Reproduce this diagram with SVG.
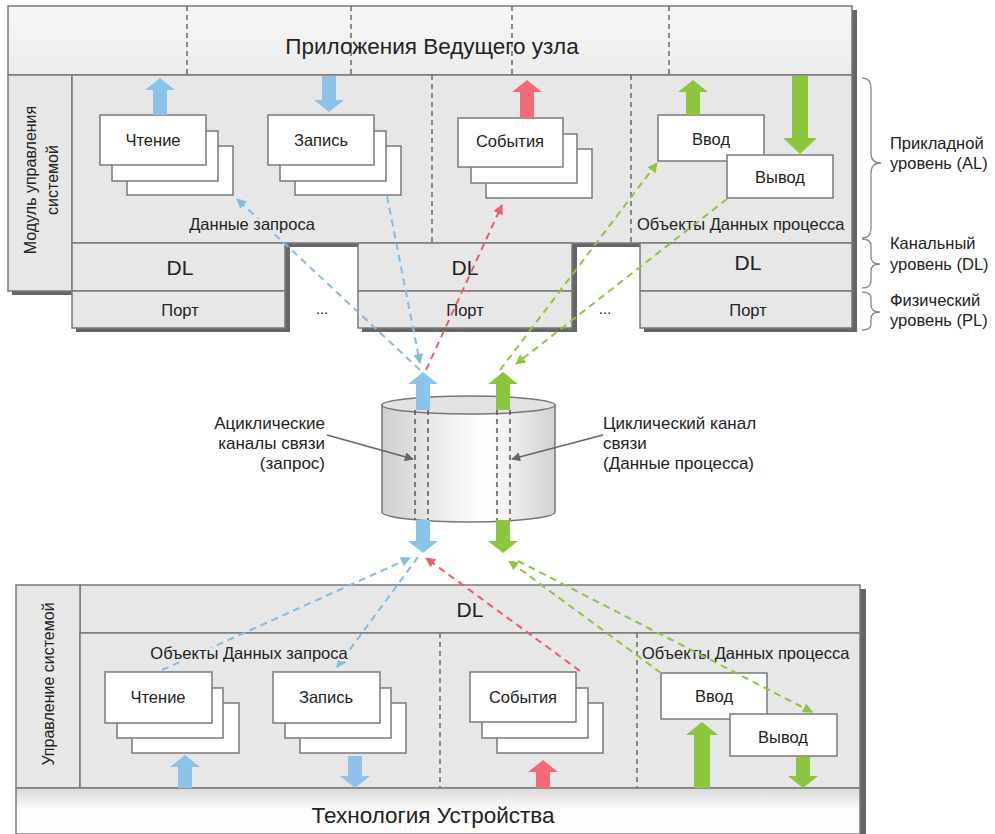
<svg xmlns="http://www.w3.org/2000/svg" width="995" height="834" viewBox="0 0 995 834">
<style>
text{font-family:"Liberation Sans",Arial,sans-serif;fill:#222}
.panel{fill:#e7e7e7;stroke:#7a7a7a;stroke-width:1.5}
.box{fill:#fff;stroke:#7a7a7a;stroke-width:1.5}
.sep{stroke:#6a6a6a;stroke-width:1.5;stroke-dasharray:5 4;fill:none}
.lbl{font-size:16.5px;text-anchor:middle}
.dl{font-size:21px;text-anchor:middle}
.side{font-size:16.5px}
.note{font-size:17px}
.brace{fill:none;stroke:#888;stroke-width:1.3}
.dash{fill:none;stroke-width:2;stroke-dasharray:7 5}
.b{stroke:#7fbde8}.r{stroke:#ee5b6b}.g{stroke:#8dc63f}
.fb{fill:#8cc3ea}.fr{fill:#f26b76}.fg{fill:#8cc63f}
</style>
<defs>
<marker id="mb" viewBox="0 0 10 10" refX="9" refY="5" markerWidth="11" markerHeight="10" markerUnits="userSpaceOnUse" orient="auto"><path d="M0,0L10,5L0,10z" fill="#7fbde8"/></marker>
<marker id="mr" viewBox="0 0 10 10" refX="9" refY="5" markerWidth="11" markerHeight="10" markerUnits="userSpaceOnUse" orient="auto"><path d="M0,0L10,5L0,10z" fill="#ee5b6b"/></marker>
<marker id="mg" viewBox="0 0 10 10" refX="9" refY="5" markerWidth="11" markerHeight="10" markerUnits="userSpaceOnUse" orient="auto"><path d="M0,0L10,5L0,10z" fill="#8dc63f"/></marker>
<marker id="mk" viewBox="0 0 10 10" refX="9" refY="5" markerWidth="10" markerHeight="9" markerUnits="userSpaceOnUse" orient="auto"><path d="M0,0L10,5L0,10z" fill="#666"/></marker>
<linearGradient id="topband" x1="0" y1="0" x2="0" y2="1"><stop offset="0" stop-color="#f6f6f6"/><stop offset="1" stop-color="#ececec"/></linearGradient>
<linearGradient id="botband" x1="0" y1="0" x2="0" y2="1"><stop offset="0" stop-color="#d9d9d9"/><stop offset="0.45" stop-color="#fbfbfb"/><stop offset="1" stop-color="#ffffff"/></linearGradient>
<linearGradient id="cyl" x1="0" y1="0" x2="1" y2="0"><stop offset="0" stop-color="#cfcfcf"/><stop offset="0.35" stop-color="#eeeeee"/><stop offset="0.6" stop-color="#ffffff"/><stop offset="1" stop-color="#d2d2d2"/></linearGradient>
</defs>

<!-- TOP BLOCK -->
<g id="top-shadow"><polygon points="12,10 857,10 857,332 644,332 644,247 577,247 577,332 362,332 362,247 290,247 290,332 76,332 76,295 12,295" fill="#666"/></g>
<g id="host-apps">
<rect x="8" y="6" width="844" height="69" fill="url(#topband)" stroke="#7a7a7a" stroke-width="1.5"/>
<line class="sep" x1="187" y1="6" x2="187" y2="75"/><line class="sep" x1="351" y1="6" x2="351" y2="75"/>
<line class="sep" x1="512" y1="6" x2="512" y2="75"/><line class="sep" x1="669" y1="6" x2="669" y2="75"/>
<text x="432" y="54" font-size="22.5" text-anchor="middle">Приложения Ведущего узла</text>
</g>
<g id="module-sys">
<rect class="panel" x="8" y="75" width="64" height="216"/>
<text transform="translate(36,180) rotate(-90)" font-size="16" text-anchor="middle">Модуль управления</text>
<text transform="translate(58,180) rotate(-90)" font-size="16" text-anchor="middle">системой</text>
</g>
<g id="al-area">
<rect class="panel" x="72" y="75" width="780" height="168"/>
<line class="sep" x1="432" y1="75" x2="432" y2="243"/><line class="sep" x1="631" y1="75" x2="631" y2="243"/>
</g>
<g id="dl-1"><rect class="panel" x="72" y="243" width="213" height="48"/><text class="dl" x="180" y="275">DL</text></g>
<g id="dl-2"><rect class="panel" x="358" y="243" width="214" height="48"/><text class="dl" x="465" y="275">DL</text></g>
<g id="dl-3"><rect class="panel" x="640" y="243" width="212" height="48"/><text class="dl" x="748" y="270">DL</text></g>
<g id="port-1"><rect class="panel" x="72" y="291" width="213" height="37"/><text class="lbl" x="180" y="316">Порт</text></g>
<g id="port-2"><rect class="panel" x="358" y="291" width="214" height="37"/><text class="lbl" x="465" y="316">Порт</text></g>
<g id="port-3"><rect class="panel" x="640" y="291" width="212" height="37"/><text class="lbl" x="748" y="316">Порт</text></g>
<text x="322" y="314" font-size="15" text-anchor="middle" fill="#555">...</text>
<text x="605" y="314" font-size="15" text-anchor="middle" fill="#555">...</text>

<g id="t-read"><rect class="box" x="127" y="146" width="106" height="49"/><rect class="box" x="112" y="131" width="106" height="50"/><rect class="box" x="100" y="115" width="106" height="50"/><text class="lbl" x="153" y="146">Чтение</text></g>
<g id="t-write"><rect class="box" x="295" y="146" width="106" height="49"/><rect class="box" x="280" y="131" width="106" height="50"/><rect class="box" x="268" y="115" width="106" height="50"/><text class="lbl" x="321" y="146">Запись</text></g>
<g id="t-events"><rect class="box" x="486" y="149" width="106" height="49"/><rect class="box" x="471" y="134" width="106" height="49"/><rect class="box" x="458" y="118" width="105" height="49"/><text class="lbl" x="510" y="147">События</text></g>
<g id="t-input"><rect class="box" x="658" y="115" width="106" height="46"/><text class="lbl" x="711" y="145">Ввод</text></g>
<g id="t-output"><rect class="box" x="727" y="155" width="106" height="43"/><text class="lbl" x="780" y="183">Вывод</text></g>
<text id="t-proc-label" class="side" x="637" y="230">Объекты Данных процесса</text>

<g id="layer-labels">
<path class="brace" d="M862,78 Q871,78 871,88 L871,153 Q871,163 881,163 Q871,163 871,173 L871,228 Q871,238 862,238"/>
<path class="brace" d="M862,239 Q871,239 871,246 L871,257 Q871,264 880,264 Q871,264 871,271 L871,281 Q871,288 862,288"/>
<path class="brace" d="M862,292 Q871,292 871,298 L871,305 Q871,312 880,312 Q871,312 871,319 L871,324 Q871,330 862,330"/>
<text class="side" x="890" y="149">Прикладной</text><text class="side" x="890" y="169">уровень (AL)</text>
<text class="side" x="890" y="249">Канальный</text><text class="side" x="890" y="270">уровень (DL)</text>
<text class="side" x="890" y="306">Физический</text><text class="side" x="890" y="326">уровень (PL)</text>
</g>

<!-- CHANNEL -->
<g id="channel">
<path d="M382,405 L382,512 A86.5,10 0 0 0 555,512 L555,405 Z" fill="url(#cyl)" stroke="#777" stroke-width="1.5"/>
<ellipse cx="468.5" cy="405" rx="86.5" ry="9" fill="#e2e2e2" stroke="#777" stroke-width="1.5"/>
<g stroke="#555" stroke-width="1.5" stroke-dasharray="5 4">
<line x1="415" y1="410" x2="415" y2="520"/><line x1="428" y1="410" x2="428" y2="520"/>
<line x1="497" y1="410" x2="497" y2="520"/><line x1="510" y1="410" x2="510" y2="520"/>
</g>
</g>
<g id="acyclic-label">
<text class="note" x="325" y="429" text-anchor="end">Ациклические</text>
<text class="note" x="325" y="449" text-anchor="end">каналы связи</text>
<text class="note" x="325" y="469" text-anchor="end">(запрос)</text>
</g>
<g id="cyclic-label">
<text class="note" x="603" y="429">Циклический канал</text>
<text class="note" x="603" y="449">связи</text>
<text class="note" x="603" y="469">(Данные процесса)</text>
</g>

<!-- BOTTOM BLOCK -->
<g id="bot-shadow"><rect x="20" y="589" width="846" height="250" fill="#666"/></g>
<g id="dev-dl"><rect class="panel" x="80" y="585" width="780" height="48"/><text class="dl" x="470" y="617">DL</text></g>
<g id="dev-sys"><rect class="panel" x="16" y="585" width="64" height="203"/>
<text transform="translate(54,684) rotate(-90)" font-size="16" text-anchor="middle">Управление системой</text></g>
<g id="dev-al"><rect class="panel" x="80" y="633" width="780" height="155"/>
<line class="sep" x1="440" y1="633" x2="440" y2="788"/><line class="sep" x1="637" y1="633" x2="637" y2="788"/></g>
<g id="dev-tech"><rect x="16" y="788" width="844" height="46" fill="url(#botband)" stroke="#7a7a7a" stroke-width="1.5"/>
<text x="433" y="823" font-size="22.5" text-anchor="middle">Технология Устройства</text></g>

<g id="b-read"><rect class="box" x="132" y="703" width="107" height="50"/><rect class="box" x="117" y="688" width="106" height="50"/><rect class="box" x="105" y="672" width="107" height="51"/><text class="lbl" x="158" y="703">Чтение</text></g>
<g id="b-write"><rect class="box" x="300" y="703" width="106" height="50"/><rect class="box" x="285" y="688" width="106" height="50"/><rect class="box" x="273" y="672" width="107" height="51"/><text class="lbl" x="326" y="703">Запись</text></g>
<g id="b-events"><rect class="box" x="497" y="703" width="106" height="50"/><rect class="box" x="482" y="688" width="106" height="50"/><rect class="box" x="470" y="672" width="106" height="50"/><text class="lbl" x="523" y="703">События</text></g>
<g id="b-input"><rect class="box" x="661" y="673" width="106" height="46"/><text class="lbl" x="714" y="702">Ввод</text></g>
<g id="b-output"><rect class="box" x="730" y="714" width="107" height="42"/><text class="lbl" x="783" y="743">Вывод</text></g>
<text id="b-proc-label" class="side" x="642" y="659">Объекты Данных процесса</text>

<!-- CONNECTORS -->
<g id="connectors">
<g id="block-arrows">
<polygon class="fb" points="160,78 175,90 167,90 167,115 153,115 153,90 145,90"/>
<polygon class="fb" points="329,112 344,100 336,100 336,76 322,76 322,100 314,100"/>
<polygon class="fr" points="527,80 542,92 534,92 534,118 520,118 520,92 512,92"/>
<polygon class="fg" points="693,80 708,92 700,92 700,115 686,115 686,92 678,92"/>
<polygon class="fg" points="800,154 817,138 808,138 808,76 792,76 792,138 783,138"/>
<polygon class="fb" points="423,372 438,384 430,384 430,410 416,410 416,384 408,384"/>
<polygon class="fg" points="503,372 518,384 510,384 510,410 496,410 496,384 488,384"/>
<polygon class="fb" points="423,553 438,541 430,541 430,520 416,520 416,541 408,541"/>
<polygon class="fg" points="503,553 518,541 510,541 510,520 496,520 496,541 488,541"/>
<polygon class="fb" points="185,755 200,767 192,767 192,788 178,788 178,767 170,767"/>
<polygon class="fb" points="355,788 370,776 362,776 362,756 348,756 348,776 340,776"/>
<polygon class="fr" points="543,760 558,772 550,772 550,788 536,788 536,772 528,772"/>
<polygon class="fg" points="702,722 718,735 710,735 710,788 694,788 694,735 686,735"/>
<polygon class="fg" points="803,788 818,776 810,776 810,757 796,757 796,776 788,776"/>
</g>
<g id="dashed-links">
<path class="dash b" d="M420,370 L237,199" marker-end="url(#mb)"/>
<path class="dash b" d="M387,196 L420,363" marker-end="url(#mb)"/>
<path class="dash r" d="M426,370 L502,205" marker-end="url(#mr)"/>
<path class="dash g" d="M500,370 L657,163" marker-end="url(#mg)"/>
<path class="dash g" d="M727,199 L516,364" marker-end="url(#mg)"/>
<path class="dash b" d="M162,670 L410,558" marker-end="url(#mb)"/>
<path class="dash b" d="M418,557 L337,667" marker-end="url(#mb)"/>
<path class="dash r" d="M580,671 L426,558" marker-end="url(#mr)"/>
<path class="dash g" d="M661,673 L509,561" marker-end="url(#mg)"/>
<path class="dash g" d="M518,561 L812,712" marker-end="url(#mg)"/>
</g>
<g id="pointers">
<path d="M327,435 L413,459" stroke="#666" stroke-width="1.8" fill="none" marker-end="url(#mk)"/>
<path d="M603,435 L512,459" stroke="#666" stroke-width="1.8" fill="none" marker-end="url(#mk)"/>
</g>
</g>
<text id="t-req-label" class="side" x="252" y="230" text-anchor="middle" stroke="#e7e7e7" stroke-width="5" paint-order="stroke">Данные запроса</text>
<text id="b-req-label" class="side" x="249" y="659" text-anchor="middle" stroke="#e7e7e7" stroke-width="5" paint-order="stroke">Объекты Данных запроса</text>
</svg>
